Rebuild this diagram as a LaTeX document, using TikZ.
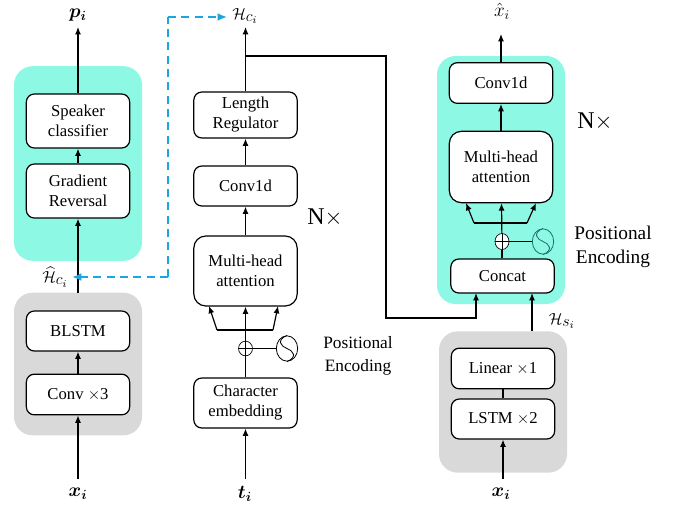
\documentclass[tikz,border=0pt]{standalone}
\usepackage{amsmath,bm}
\usepackage{fontspec}
\setmainfont{Liberation Serif}
\usetikzlibrary{arrows.meta,shapes.geometric}
\definecolor{tealbg}{HTML}{8DF8E4}
\definecolor{graybg}{HTML}{D9D9D9}
\definecolor{dashblue}{HTML}{1CA6DF}
\definecolor{sindark}{HTML}{1F6F6A}
\tikzset{
  >={Latex[length=5.5pt,width=4.5pt]},
  panel/.style={rounded corners=14pt, inner sep=0pt, minimum width=96pt},
  block/.style={draw, line width=.9pt, fill=white, rounded corners=6pt, align=center, inner sep=0pt, minimum width=77.5pt, font=\fontsize{12.5}{15}\selectfont},
  wire/.style={line width=.9pt},
  link/.style={dashblue, line width=1.6pt, dash pattern=on 6pt off 4pt, -{Latex[length=7pt,width=6pt]}},
  addcirc/.style={ellipse, draw, line width=.5pt, inner sep=0pt, minimum width=10.5pt, minimum height=11pt},
  sinecirc/.style={ellipse, draw, line width=.6pt, inner sep=0pt, minimum width=16pt, minimum height=19pt},
  lab/.style={font=\fontsize{13}{17}\selectfont, align=center},
  mathlab/.style={font=\fontsize{12}{14}\selectfont},
  boldlab/.style={font=\fontsize{14}{17}\selectfont},
  bigx/.style={font=\fontsize{18}{20}\selectfont},
}
\begin{document}
\begin{tikzpicture}[x=.75pt,y=-.75pt]
\useasboundingbox (0,0) rectangle (678,508);
% panels
\node[panel, fill=tealbg, minimum height=146pt] (bgadv) at (78,163.5){};
\node[panel, fill=graybg, minimum height=107pt] (bgenc) at (78,364){};
\node[panel, fill=tealbg, minimum height=186pt] (bgdec) at (501,180){};
\node[panel, fill=graybg, minimum height=106pt] (bgspk) at (503,402){};
% left column
\node[block, minimum height=40.5pt] (cls) at (78,121){Speaker\\classifier};
\node[block, minimum height=40.5pt] (grl) at (78,191){Gradient\\Reversal};
\node[block, minimum height=30pt] (blstm) at (78,331){BLSTM};
\node[block, minimum height=30.5pt] (conv) at (78,394.5){Conv $\times$3};
\node[boldlab] (pi) at (78,15){$\bm{p_i}$};
\node[boldlab] (xa) at (78,494){$\bm{x_i}$};
\node[mathlab] (hhat) at (55,277){$\widehat{\mathcal{H}}_{\textstyle c_i}$};
\coordinate (tippi) at (78,27);
\coordinate (inxa) at (78,479);
\coordinate (tiphat) at (72,277);
\coordinate (bendb) at (168,277);
\coordinate (bendt) at (168,17);
\coordinate (hatgrl) at (78,293);
\draw[wire, ->](cls) -- (tippi);
\draw[wire, ->](grl) -- (cls);
\draw[wire, ->](hatgrl) -- (grl);
\draw[wire, ->](conv) -- (blstm);
\draw[wire, ->](inxa) -- (conv);
% middle column
\node[block, minimum height=34.5pt] (len) at (245.5,115){Length\\Regulator};
\node[block, minimum height=30pt] (cnv) at (245.5,186){Conv1d};
\node[block, rounded corners=9pt, minimum height=52.5pt] (att) at (245.5,271){Multi-head\\attention};
\node[block, minimum height=37.5pt] (chr) at (245.5,403){Character\\embedding};
\node[addcirc] (addm) at (245.5,348.5){};
\node[sinecirc] (posm) at (287,348.5){};
\node[mathlab] (hc) at (245,16){$\mathcal{H}_{\textstyle c_i}$};
\node[boldlab] (ti) at (245,494){$\bm{t_i}$};
\node[bigx] (nm) at (325,218){N$\times$};
\node[lab] (pem) at (358,356){Positional\\Encoding};
\coordinate (tiphc) at (245.5,27);
\coordinate (tipdash) at (227,17);
\coordinate (inti) at (245.5,479);
\coordinate (baml) at (217,330);
\coordinate (bamr) at (273,330);
\coordinate (tpml) at (209,306);
\coordinate (tpmr) at (278,306);
\coordinate (tap) at (245.5,56);
\coordinate (ra) at (386,56);
\coordinate (rb) at (386,318);
\coordinate (rc) at (476,318);
\coordinate (rd) at (476,293);
\draw[wire, ->](len) -- (tiphc);
\draw[wire, ->](cnv) -- (len);
\draw[wire, ->](att) -- (cnv);
\draw[wire, ->](inti) -- (chr);
\draw[wire](chr) -- (addm);
\draw[wire, ->](addm) -- (att);
\draw[wire](addm) -- (posm);
\draw[wire, ->](bamr) -- (tpmr);
\draw[wire, ->](baml) -- (tpml);
\draw[wire](baml) -- (bamr);
\draw[line width=.6pt](addm.west) -- (addm.east);
\draw[line width=.6pt](addm.north) -- (addm.south);
\draw[wire, ->](tap) -- (ra) -- (rb) -- (rc) -- (rd);
\draw[line width=.6pt](posm.north) .. controls (276,340) and (281,346.5) .. (posm.center) .. controls (293,350.5) and (298,357) .. (posm.south);
% dashed link
\draw[link, -](bendb) -- (bendt);
\draw[link](bendt) -- (tipdash);
\draw[link](bendb) -- (tiphat);
% right column
\node[block, minimum height=30.5pt] (dcnv) at (501,83){Conv1d};
\node[block, rounded corners=9pt, minimum height=53.5pt] (datt) at (501,167){Multi-head\\attention};
\node[block, minimum height=25.5pt] (cat) at (502.5,276){Concat};
\node[block, minimum height=30.5pt] (lin) at (503,368.5){Linear $\times$1};
\node[block, minimum height=30pt] (lstm) at (503,419){LSTM $\times$2};
\node[addcirc, fill=white, minimum height=12pt] (addr) at (502,241.5){};
\node[sinecirc, sindark, fill=tealbg] (posr) at (543,241.5){};
\node[boldlab] (xh) at (502,11){$\hat{x}_i$};
\node[boldlab] (xb) at (501,494){$\bm{x_i}$};
\node[mathlab] (hs) at (562,321){$\mathcal{H}_{\textstyle s_i}$};
\node[bigx] (nr) at (595,122){N$\times$};
\node[lab, font=\fontsize{14.5}{18}\selectfont] (per) at (613,247){Positional\\Encoding};
\coordinate (tipxh) at (501,34);
\coordinate (inxb) at (503,479);
\coordinate (barl) at (474,223);
\coordinate (barr) at (527,223);
\coordinate (tprl) at (466,203);
\coordinate (tprr) at (536,203);
\coordinate (spk) at (532,331);
\coordinate (spkt) at (532,293);
\draw[wire, ->](dcnv) -- (tipxh);
\draw[wire, ->](datt) -- (dcnv);
\draw[wire](cat.north -| addr) -- (addr);
\draw[wire, ->](addr) -- (datt);
\draw[wire](addr) -- (posr);
\draw[wire, ->](barr) -- (tprr);
\draw[wire, ->](barl) -- (tprl);
\draw[wire](barl) -- (barr);
\draw[line width=.6pt](addr.west) -- (addr.east);
\draw[line width=.6pt](addr.north) -- (addr.south);
\draw[wire, ->](spk) -- (spkt);
\draw[wire](lstm) -- (lin);
\draw[wire, ->](inxb) -- (lstm);
\draw[sindark, line width=.6pt](posr.north) .. controls (532,233) and (537,239.5) .. (posr.center) .. controls (549,243.5) and (554,250) .. (posr.south);
\end{tikzpicture}
\end{document}
